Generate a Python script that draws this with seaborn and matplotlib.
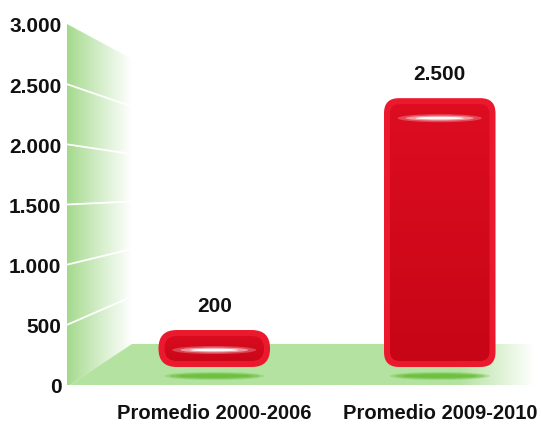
import numpy as np
import matplotlib
matplotlib.use("Agg")
import matplotlib.pyplot as plt
import seaborn as sns
from matplotlib.patches import FancyBboxPatch, Polygon, Ellipse
from matplotlib.colors import to_rgb

# ---------------- data ----------------
categories = ["Promedio 2000-2006", "Promedio 2009-2010"]
values = [200, 2500]
value_labels = ["200", "2.500"]
yticks = [0, 500, 1000, 1500, 2000, 2500, 3000]
ytick_labels = ["0", "500", "1.000", "1.500", "2.000", "2.500", "3.000"]

# ---------------- figure ----------------
W, H, DPI = 541, 427, 100
sns.set_style("white")
plt.rcParams['font.family'] = ['Liberation Sans', 'DejaVu Sans']
fig = plt.figure(figsize=(W / DPI, H / DPI), dpi=DPI)

AX_L, AX_R, AX_T, AX_B = 67, 541, 25, 386
pos = [AX_L / W, (H - AX_B) / H, (AX_R - AX_L) / W, (AX_B - AX_T) / H]
XL = (-0.653, 1.449)

ax = fig.add_axes(pos)
ax.set_xlim(*XL)
ax.set_ylim(0, 3000)
px_x = (AX_R - AX_L) / (XL[1] - XL[0])      # pixels per x unit

# back wall / floor geometry (decoration)
xb = XL[0] + (132 - AX_L) / px_x
def back(v):
    return 341 + 0.7893 * v
y_front0 = -15

wall = Polygon([(XL[0], y_front0), (XL[0], 3000), (xb, back(3000)), (xb, back(0))],
               closed=True, transform=ax.transData, fc='none', ec='none')
ax.add_patch(wall)
g0 = np.array(to_rgb('#a2d98a'))
g1 = np.array([1.0, 1.0, 1.0])
t = np.linspace(0, 1, 128)[None, :, None] ** 0.9
grad = g0 * (1 - t) + g1 * t
im = ax.imshow(grad, extent=(XL[0], xb, y_front0, 3000), aspect='auto', origin='lower',
               zorder=1, interpolation='bilinear')
im.set_clip_path(wall)

for v in yticks[1:-1]:
    ax.plot([XL[0], xb], [v, back(v)], color='white', lw=1.3, zorder=2,
            solid_capstyle='butt')

x_floor_r = XL[1]
floor = Polygon([(XL[0], y_front0), (xb, back(0)), (x_floor_r, back(0)), (x_floor_r, y_front0)],
                closed=True, transform=ax.transData, fc='none', ec='none')
ax.add_patch(floor)
fc = np.array(to_rgb('#b4e2a0'))
nx = 256
xs = np.linspace(XL[0], x_floor_r, nx)
xpx = AX_L + (xs - XL[0]) * px_x
alpha = np.clip((535 - xpx) / (535 - 460), 0, 1)
rgba = np.zeros((1, nx, 4))
rgba[0, :, :3] = fc
rgba[0, :, 3] = alpha
im2 = ax.imshow(rgba, extent=(XL[0], x_floor_r, y_front0, back(0)), aspect='auto',
                origin='lower', zorder=3, interpolation='bilinear')
im2.set_clip_path(floor)

ax.set_xlim(*XL)
ax.set_ylim(0, 3000)
ax.set_yticks(yticks)
ax.set_yticklabels(ytick_labels, fontsize=15, fontweight='bold', color='#111111')
ax.set_xticks([0, 1])
ax.set_xticklabels(categories, fontsize=14.5, fontweight='bold', color='#111111')
ax.tick_params(axis='both', length=0)
ax.tick_params(axis='y', pad=4)
ax.tick_params(axis='x', pad=13)
for s in ax.spines.values():
    s.set_visible(False)
ax.grid(False)

# ---------------- bars ----------------
ax2 = fig.add_axes(pos)
YL2 = (-262, 3319)
sns.barplot(x=categories, y=values, ax=ax2, width=0.42, color='#d00a1c', saturation=1)
ax2.set_xlim(*XL)
ax2.set_ylim(*YL2)
ax2.axis('off')
ax2.patch.set_visible(False)

sx = px_x
sy = (AX_B - AX_T) / (YL2[1] - YL2[0])
aspect = sx / sy

def pxx(p):
    return p / sx

def pxy(p):
    return p / sy

PAD = 8.4
INSET = 6
for i, bar in enumerate(list(ax2.patches)):
    x0, y0 = bar.get_x(), bar.get_y()
    w, h = bar.get_width(), bar.get_height()
    bar.set_visible(False)
    xc = x0 + w / 2
    outer_h_px = h * sy + 2 * PAD
    r_out = outer_h_px / 2 - 0.3 if outer_h_px < 50 else 15
    r_in = max(r_out - INSET + 0.5, 4)
    # shadow
    for ww, hh, a in [(100, 8, 0.3), (90, 6, 0.45), (76, 4, 0.7)]:
        ax2.add_patch(Ellipse((xc, y0 - pxy(PAD + 9)), pxx(ww), pxy(hh),
                              fc='#66bd35', ec='none', alpha=a, zorder=2))
    # outer rim
    outer = FancyBboxPatch((x0, y0), w, h,
                           boxstyle=f"round,pad={pxx(PAD)},rounding_size={pxx(r_out)}",
                           mutation_aspect=aspect, fc='#eb192d', ec='none', zorder=3)
    ax2.add_patch(outer)
    # inner with gradient
    inner = FancyBboxPatch((x0, y0), w, h,
                           boxstyle=f"round,pad={pxx(PAD - INSET)},rounding_size={pxx(r_in)}",
                           mutation_aspect=aspect, fc='none', ec='none', zorder=4)
    ax2.add_patch(inner)
    top_c = np.array(to_rgb('#de0d21'))
    bot_c = np.array(to_rgb('#c60516'))
    tt = np.linspace(0, 1, 64)[:, None, None]
    gimg = bot_c * (1 - tt) + top_c * tt
    gi = ax2.imshow(gimg, extent=(x0 - pxx(PAD), x0 + w + pxx(PAD),
                                  y0 - pxy(PAD), y0 + h + pxy(PAD)),
                    aspect='auto', origin='lower', zorder=4, interpolation='bilinear')
    gi.set_clip_path(inner)
    # highlight streak
    hy = y0 + h + pxy(PAD) - pxy(20)
    for ww, hh, a in [(84, 8, 0.25), (68, 5, 0.45), (48, 2.6, 0.95)]:
        ax2.add_patch(Ellipse((xc, hy), pxx(ww), pxy(hh), fc='white', ec='none',
                              alpha=a, zorder=5))
    # value label
    ax2.annotate(value_labels[i], (xc, values[i]), xytext=(0, 24), textcoords='offset points',
                 ha='center', va='center', fontsize=15, fontweight='bold', color='#111111',
                 zorder=6)

ax2.set_xlim(*XL)
ax2.set_ylim(*YL2)

fig.savefig("out.png", dpi=DPI)
